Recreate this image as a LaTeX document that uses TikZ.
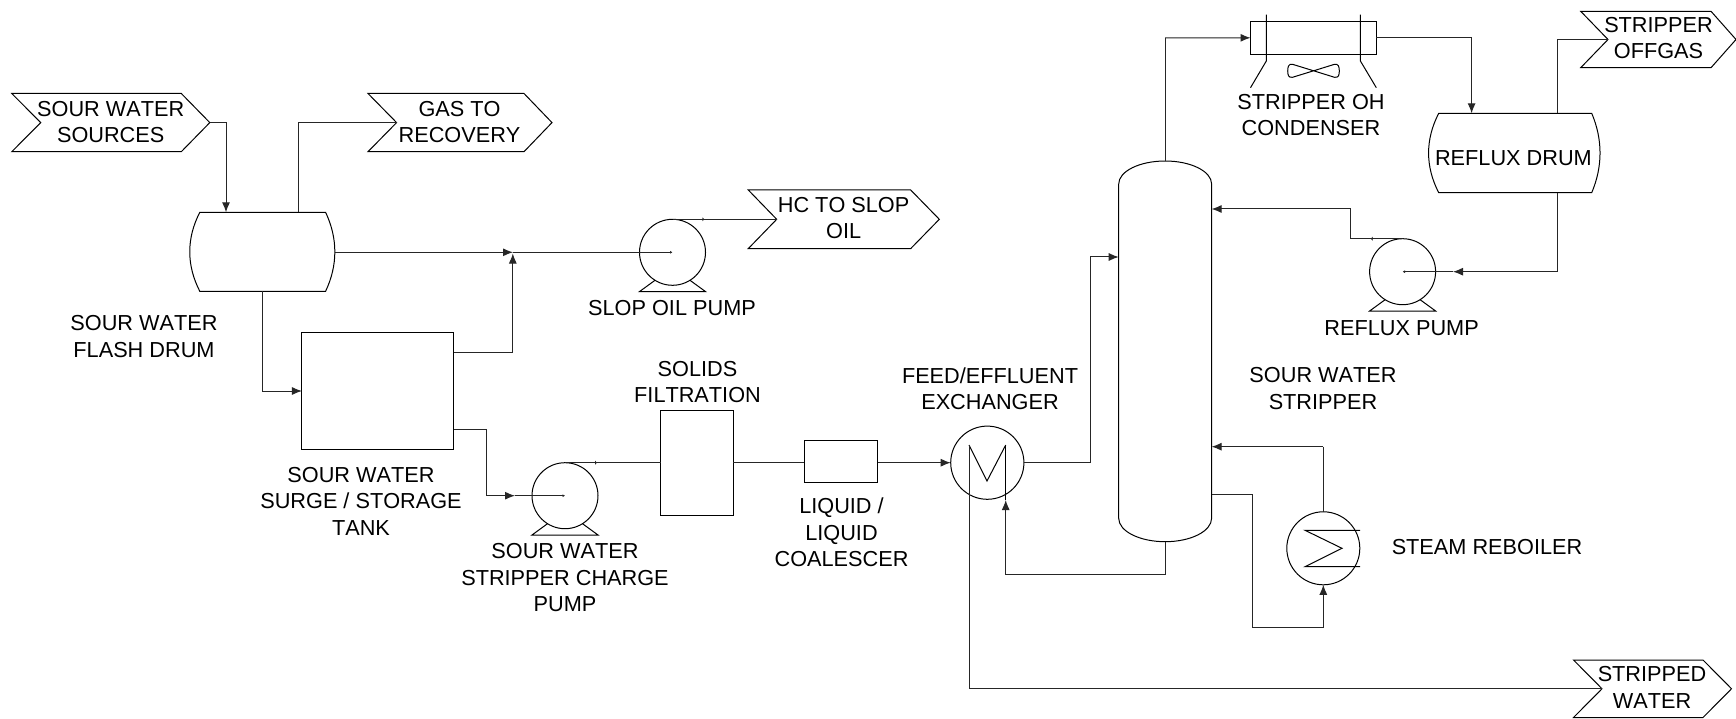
\documentclass[tikz,border=0pt]{standalone}
\usepackage{fontspec}
\setmainfont[Kerning=Off]{Liberation Sans}
\usetikzlibrary{arrows.meta}
\tikzset{
  eq/.style={draw=black,line width=1pt,fill=none},
  pipe/.style={draw=black!85,line width=1pt},
  flow/.style={pipe,-{Latex[length=10pt,width=8pt]}},
  minitip/.style={pipe,-{Latex[length=2.5pt,width=3pt]}},
  tick/.style={pipe,-{Latex[length=1.5pt,width=4.5pt]}},
  lbl/.style={align=center,inner sep=0pt,font=\fontsize{21.7}{26.5}\selectfont},
  vessel/.style={eq,rectangle,inner sep=0pt,outer sep=0pt},
  roundeq/.style={eq,circle,inner sep=0pt,outer sep=0pt},
}
% name, left, notch, shoulder, tip, top, bottom
\newcommand{\tagsym}[7]{%
  \draw[eq] (#2,#6) -- (#4,#6) -- (#5,{(#6+#7)/2}) -- (#4,#7) -- (#2,#7) -- (#3,{(#6+#7)/2}) -- cycle;
  \coordinate (#1notch) at (#3,{(#6+#7)/2});
  \coordinate (#1tip) at (#5,{(#6+#7)/2});
}
% name, x, y : pump body with its base
\newcommand{\pumpsym}[3]{%
  \node[roundeq,minimum size=66pt] (#1) at (#2,#3) {};
  \coordinate (#1c) at (#2,#3);
  \draw[eq] ({#2-17.5},{#3+28}) -- ({#2-33},{#3+39.3}) -- ({#2+33},{#3+39.3}) -- ({#2+17.5},{#3+28});
}
% name, top, bottom, flat left, flat right, ctrl left, ctrl right
\newcommand{\drumsym}[7]{%
  \draw[eq] (#4,#2) -- (#5,#2) .. controls (#7,{#2+0.33*(#3-#2)}) and (#7,{#2+0.67*(#3-#2)}) .. (#5,#3)
     -- (#4,#3) .. controls (#6,{#2+0.67*(#3-#2)}) and (#6,{#2+0.33*(#3-#2)}) .. (#4,#2) -- cycle;
}
\begin{document}
\begin{tikzpicture}[x=1pt,y=-1pt]
\useasboundingbox (0,0) rectangle (1736,719);
\fill[white] (0,0) rectangle (1736,719);

% ---- tags
\tagsym{src}{11.8}{40.7}{181.3}{209.8}{93.5}{151.7}
\tagsym{gas}{368}{396.6}{524}{552}{93.5}{151.7}
\tagsym{hc}{748.3}{776.7}{910.7}{939.3}{190}{248.6}
\tagsym{off}{1580.7}{1608}{1711}{1736}{11.3}{67.7}
\tagsym{wat}{1573.5}{1602}{1703}{1731.5}{660}{717.5}

% ---- vessels
\drumsym{fd}{212.3}{291.3}{199.8}{325.6}{186.4}{337.9}
\drumsym{rd}{113.3}{192.7}{1438.7}{1591.7}{1425.2}{1602.8}
\coordinate (fdin) at (226,212.3);
\coordinate (fdgas) at (298.6,212.3);
\coordinate (fdhc) at (334.8,252.3);
\coordinate (fdbot) at (262.3,291.3);
\coordinate (rdin) at (1471.6,113.3);
\coordinate (rdgas) at (1557.6,113.3);
\coordinate (rdbot) at (1557.6,192.7);

\node[vessel,minimum width=151.7pt,minimum height=116.5pt] (tank) at (377.8,391.2) {};
\node[vessel,minimum width=72.5pt,minimum height=105.3pt] (filt) at (697.2,462.7) {};
\node[vessel,minimum width=73.4pt,minimum height=42pt] (coal) at (841,461.7) {};

\pumpsym{pa}{672.5}{252.3}
\pumpsym{pb}{565}{495.7}
\pumpsym{pc}{1402.6}{271.7}

% ---- column
\draw[eq] (1118.7,184) .. controls (1118.7,171.3) and (1139.5,161) .. (1165.2,161)
   .. controls (1190.8,161) and (1211.6,171.3) .. (1211.6,184)
   -- (1211.6,518.3) .. controls (1211.6,531.2) and (1190.8,541.7) .. (1165.2,541.7)
   .. controls (1139.5,541.7) and (1118.7,531.2) .. (1118.7,518.3) -- cycle;
\coordinate (coltop) at (1165.2,161);
\coordinate (colbot) at (1165.2,541.7);
\coordinate (colfeed) at (1118.7,257);
\coordinate (colref) at (1211.6,209);
\coordinate (colreb) at (1211.6,446.7);
\coordinate (colout) at (1211.6,494.3);

% ---- exchangers
\node[roundeq,minimum size=73.2pt] (hx) at (987.3,462.7) {};
\draw[eq] (969,445) -- (987,481) -- (1005.7,445);
\coordinate (hxl) at (969,445);
\coordinate (hxr) at (1005.7,445);
\coordinate (hxrb) at (1005.7,500);
\node[roundeq,minimum size=73pt] (reb) at (1323.3,548.3) {};
\draw[eq] (1360,530.3) -- (1305,530.3) -- (1342,548.3) -- (1305,566.7) -- (1360,566.7);

% ---- condenser
\node[vessel,minimum width=125.8pt,minimum height=33pt] (cond) at (1313.4,37.8) {};
\draw[eq] (1266.3,14.7) -- (1266.3,61) -- (1250.5,87.7);
\draw[eq] (1360.4,14.7) -- (1360.4,61) -- (1376.3,87.7);
\draw[eq] (1313.6,70.8) -- (1292.5,64.3) .. controls (1288.5,63.5) and (1287.7,67) .. (1287.7,71)
   .. controls (1287.7,75) and (1288.5,78) .. (1292.5,77.3) -- (1313.6,70.8)
   -- (1334.5,64.3) .. controls (1338.5,63.5) and (1339.3,67) .. (1339.3,71)
   .. controls (1339.3,75) and (1338.5,78) .. (1334.5,77.3) -- cycle;

% ---- connectors
\draw[flow] (srctip) -| (fdin);
\draw[pipe] (fdgas) |- (gasnotch);

\coordinate (jAtip) at (513,252.3);
\draw[flow] (fdhc) -- (jAtip);
\draw[minitip] (jAtip) -- (pac);
\coordinate (tankA) at (tank.east |- 0,352.7);
\coordinate (jAup) at (512.8,253.5);
\draw[flow] (tankA) -| (jAup);
\coordinate (patop) at (pa.north);
\draw[pipe] (patop) -- (hcnotch);
\coordinate (patick) at (704,219.3);
\draw[tick] (patop) -- (patick);

\coordinate (tankin) at (tank.west |- 0,391);
\draw[flow] (fdbot) |- (tankin);

\coordinate (tankB) at (tank.east |- 0,429.5);
\coordinate (pbjog) at (486,495.7);
\coordinate (pbarrow) at (515,495.7);
\draw[pipe] (tankB) -| (pbjog);
\draw[flow] (pbjog) -- (pbarrow);
\draw[minitip] (pbarrow) -- (pbc);
\coordinate (pbtick) at (596.7,462.7);
\draw[pipe] (pb.north) -- (pb.north -| filt.west);
\draw[tick] (pb.north) -- (pbtick);

\draw[pipe] (filt.east) -- (filt.east -| coal.west);
\draw[flow] (coal.east |- hx.west) -- (hx.west);

\coordinate (hxjog) at (1090,462.7);
\draw[pipe] (hx.east) -- (hxjog);
\draw[flow] (hxjog) |- (colfeed);

\coordinate (colb2) at (1165.2,574.7);
\draw[pipe] (colbot) -- (colb2);
\draw[flow] (colb2) -| (hxrb);
\draw[eq] (hxr) -- (hxrb);

\draw[pipe] (hxl) |- (watnotch);

\coordinate (condin) at (1165.2,38);
\draw[pipe] (coltop) -- (condin);
\draw[flow] (condin) -- (cond.west);
\coordinate (condout) at (cond.east);
\draw[flow] (condout) -| (rdin);
\draw[pipe] (rdgas) |- (offnotch);

\coordinate (rdturn) at (1557.6,271.7);
\coordinate (pcarrow) at (1453,271.7);
\draw[pipe] (rdbot) -- (rdturn);
\draw[flow] (rdturn) -- (pcarrow);
\draw[minitip] (pcarrow) -- (pcc);

\coordinate (pcjog) at (1350.7,238.7);
\coordinate (pcup) at (1350.7,209);
\coordinate (pctick) at (1371,238.7);
\draw[pipe] (pc.north) -- (pcjog);
\draw[tick] (pc.north) -- (pctick);
\draw[pipe] (pcjog) -- (pcup);
\draw[flow] (pcup) -- (colref);

\coordinate (rebcorner) at (reb.north |- colreb);
\draw[pipe] (reb.north) -- (rebcorner);
\draw[flow] (rebcorner) -- (colreb);
\coordinate (c1) at (1252,494.3);
\coordinate (c2) at (1252,627.7);
\coordinate (c3) at (1323.3,627.7);
\draw[pipe] (colout) -- (c1) -- (c2) -- (c3);
\draw[flow] (c3) -- (reb.south);

% ---- labels
\node[lbl] (t1) at (110.7,121.8) {SOUR WATER\\SOURCES};
\node[lbl] (t2) at (459.5,121.8) {GAS TO\\RECOVERY};
\node[lbl] (t3) at (144,336.6) {SOUR WATER\\FLASH DRUM};
\node[lbl] (t4) at (843.6,218) {HC TO SLOP\\OIL};
\node[lbl] (t5) at (672,307.8) {SLOP OIL PUMP};
\node[lbl] (t6) at (697.5,382) {SOLIDS\\FILTRATION};
\node[lbl] (t7) at (361,501) {SOUR WATER\\SURGE / STORAGE\\TANK};
\node[lbl] (t8) at (565,578) {SOUR WATER\\STRIPPER CHARGE\\PUMP};
\node[lbl] (t9) at (841.5,532.5) {LIQUID /\\LIQUID\\COALESCER};
\node[lbl] (t10) at (990,388.6) {FEED/EFFLUENT\\EXCHANGER};
\node[lbl] (t11) at (1311,115) {STRIPPER OH\\CONDENSER};
\node[lbl] (t12) at (1513.4,158.3) {REFLUX DRUM};
\node[lbl] (t13) at (1401.6,327.7) {REFLUX PUMP};
\node[lbl] (t14) at (1323,388.6) {SOUR WATER\\STRIPPER};
\node[lbl] (t15) at (1487,547) {STEAM REBOILER};
\node[lbl] (t16) at (1658.5,38) {STRIPPER\\OFFGAS};
\node[lbl] (t17) at (1652,687.5) {STRIPPED\\WATER};
\end{tikzpicture}
\end{document}
